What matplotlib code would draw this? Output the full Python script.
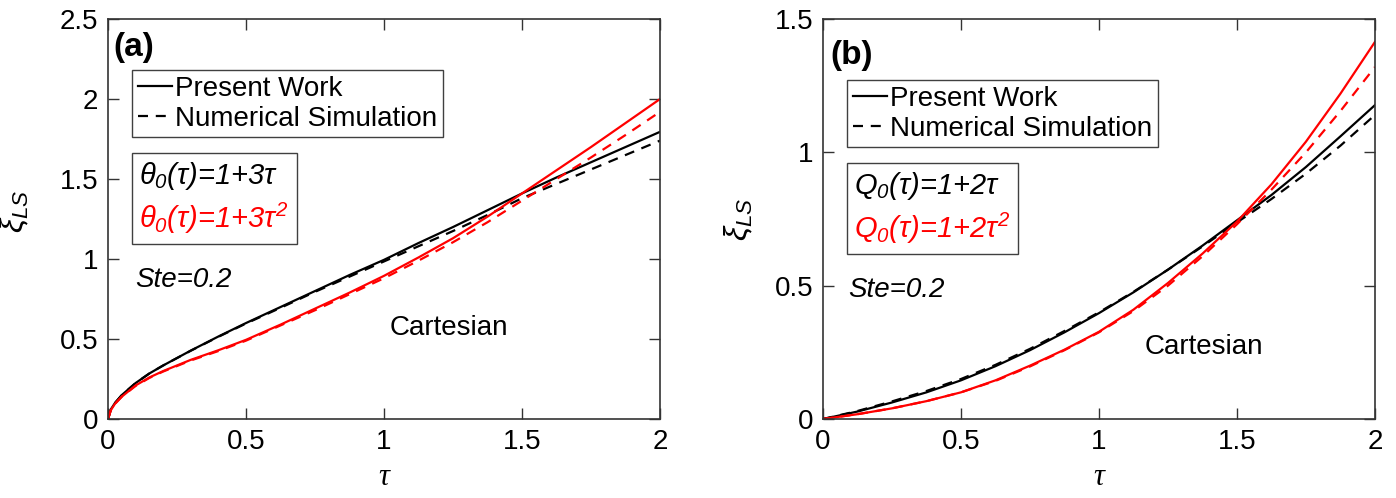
import matplotlib
matplotlib.use('Agg')
import matplotlib.pyplot as plt
from matplotlib.lines import Line2D
from matplotlib.ticker import FuncFormatter

plt.rcParams['font.family'] = ['Liberation Sans', 'DejaVu Sans']
plt.rcParams['mathtext.fontset'] = 'custom'
plt.rcParams['mathtext.rm'] = 'Liberation Sans:italic'
plt.rcParams['mathtext.it'] = 'Liberation Sans:italic'
plt.rcParams['mathtext.sf'] = 'Liberation Sans:italic'

# panel (a): linear vs quadratic wall temperature
tau_a = [0, 0.01, 0.025, 0.05, 0.1, 0.15, 0.2, 0.3, 0.4, 0.5, 0.625, 0.75, 0.875,
         1.0, 1.125, 1.25, 1.375, 1.5, 1.625, 1.75, 1.875, 2.0]
a_lin_present = [0, 0.06, 0.10, 0.15, 0.225, 0.285, 0.335, 0.428, 0.516, 0.60, 0.70, 0.80, 0.90,
                 0.995, 1.10, 1.20, 1.305, 1.41, 1.51, 1.605, 1.70, 1.795]
a_lin_numeric = [0, 0.06, 0.10, 0.15, 0.225, 0.285, 0.335, 0.427, 0.514, 0.597, 0.695, 0.795, 0.89,
                 0.985, 1.08, 1.175, 1.275, 1.38, 1.47, 1.56, 1.65, 1.74]
a_quad_present = [0, 0.055, 0.095, 0.14, 0.21, 0.26, 0.30, 0.37, 0.43, 0.495, 0.59, 0.69, 0.79,
                  0.895, 1.01, 1.13, 1.265, 1.41, 1.555, 1.70, 1.85, 2.0]
a_quad_numeric = [0, 0.055, 0.095, 0.14, 0.207, 0.257, 0.297, 0.366, 0.425, 0.49, 0.585, 0.68, 0.78,
                  0.88, 0.99, 1.105, 1.23, 1.365, 1.50, 1.635, 1.775, 1.92]

# panel (b): linear vs quadratic heat flux
tau_b = [0, 0.125, 0.25, 0.375, 0.5, 0.625, 0.75, 0.875, 1.0, 1.125, 1.25, 1.375,
         1.5, 1.625, 1.75, 1.875, 2.0]
b_lin_present = [0, 0.028, 0.062, 0.10, 0.145, 0.198, 0.258, 0.325, 0.397, 0.475, 0.56, 0.65,
                 0.745, 0.84, 0.945, 1.06, 1.177]
b_lin_numeric = [0, 0.03, 0.066, 0.105, 0.15, 0.203, 0.263, 0.33, 0.40, 0.477, 0.56, 0.647,
                 0.737, 0.825, 0.92, 1.025, 1.14]
b_quad_present = [0, 0.018, 0.04, 0.067, 0.10, 0.145, 0.20, 0.26, 0.327, 0.41, 0.51, 0.62,
                  0.74, 0.88, 1.04, 1.22, 1.414]
b_quad_numeric = [0, 0.018, 0.04, 0.067, 0.10, 0.143, 0.197, 0.258, 0.325, 0.405, 0.50, 0.61,
                  0.73, 0.86, 1.0, 1.155, 1.32]

x_ticks = [0, 0.5, 1, 1.5, 2]
y_ticks_a = [0, 0.5, 1, 1.5, 2, 2.5]
y_ticks_b = [0, 0.5, 1, 1.5]

legend_labels = ['Present Work', 'Numerical Simulation']
cond_a = [r'$\theta_0(\tau)$=1+3$\tau$', r'$\theta_0(\tau)$=1+3$\tau^2$']
cond_b = [r'$Q_0(\tau)$=1+2$\tau$', r'$Q_0(\tau)$=1+2$\tau^2$']

DASH = (0, (4.5, 3.5))
LW = 1.6

fig = plt.figure(figsize=(13.96, 4.98), dpi=100)
ax_a = fig.add_axes([0.0774, 0.1586, 0.3954, 0.8032])
ax_b = fig.add_axes([0.5895, 0.1586, 0.3954, 0.8032])

fmt = FuncFormatter(lambda v, p: '%g' % v)


def style_axes(ax, yticks, ylim):
    ax.set_xlim(0, 2)
    ax.set_ylim(*ylim)
    ax.set_xticks(x_ticks)
    ax.set_yticks(yticks)
    ax.xaxis.set_major_formatter(fmt)
    ax.yaxis.set_major_formatter(fmt)
    ax.tick_params(direction='in', top=True, right=True, length=8, width=1.0,
                   color='0.2', labelsize=20, pad=7)
    for s in ax.spines.values():
        s.set_linewidth(1.2)
        s.set_color('0.2')
    ax.set_xlabel('τ', family='Liberation Serif', style='italic', fontsize=22, labelpad=6)
    ax.set_ylabel(r'$\xi_{LS}$', fontsize=23)


def add_legends(ax, conds, top1, top2):
    handles = [Line2D([], [], color='k', lw=LW),
               Line2D([], [], color='k', lw=LW, ls=DASH)]
    leg1 = ax.legend(handles, legend_labels, loc='upper left', bbox_to_anchor=(0.0435, top1),
                     borderaxespad=0, fancybox=False, edgecolor='0.25', framealpha=1,
                     fontsize=20, handlelength=1.25, handletextpad=0.1, borderpad=0.2,
                     labelspacing=0.15)
    leg1.get_frame().set_linewidth(1.0)
    ax.add_artist(leg1)
    blanks = [Line2D([], [], ls='none'), Line2D([], [], ls='none')]
    leg2 = ax.legend(blanks, conds, loc='upper left', bbox_to_anchor=(0.0435, top2),
                     borderaxespad=0, fancybox=False, edgecolor='0.25', framealpha=1,
                     prop={'size': 21, 'style': 'italic'}, handlelength=0, handletextpad=0,
                     borderpad=0.25, labelspacing=0.3, labelcolor=['k', 'red'])
    leg2.get_frame().set_linewidth(1.0)


# (a)
ax_a.plot(tau_a, a_lin_present, color='k', lw=LW)
ax_a.plot(tau_a, a_lin_numeric, color='k', lw=LW, ls=DASH)
ax_a.plot(tau_a, a_quad_present, color='red', lw=LW)
ax_a.plot(tau_a, a_quad_numeric, color='red', lw=LW, ls=DASH)
style_axes(ax_a, y_ticks_a, (0, 2.5))
ax_a.yaxis.set_label_coords(-0.14, 0.52)
add_legends(ax_a, cond_a, 0.8725, 0.665)
ax_a.text(0.009, 0.93, '(a)', transform=ax_a.transAxes, fontsize=24, fontweight='bold',
          va='center', ha='left')
ax_a.text(0.049, 0.3475, 'Ste=0.2', transform=ax_a.transAxes, fontsize=20, style='italic',
          va='center', ha='left')
ax_a.text(0.618, 0.2275, 'Cartesian', transform=ax_a.transAxes, fontsize=20,
          va='center', ha='center')

# (b)
ax_b.plot(tau_b, b_lin_present, color='k', lw=LW)
ax_b.plot(tau_b, b_lin_numeric, color='k', lw=LW, ls=DASH)
ax_b.plot(tau_b, b_quad_present, color='red', lw=LW)
ax_b.plot(tau_b, b_quad_numeric, color='red', lw=LW, ls=DASH)
style_axes(ax_b, y_ticks_b, (0, 1.5))
ax_b.yaxis.set_label_coords(-0.123, 0.50)
add_legends(ax_b, cond_b, 0.8475, 0.64)
ax_b.text(0.0127, 0.91, '(b)', transform=ax_b.transAxes, fontsize=24, fontweight='bold',
          va='center', ha='left')
ax_b.text(0.045, 0.3225, 'Ste=0.2', transform=ax_b.transAxes, fontsize=20, style='italic',
          va='center', ha='left')
ax_b.text(0.69, 0.18, 'Cartesian', transform=ax_b.transAxes, fontsize=20,
          va='center', ha='center')

fig.savefig('out.png', dpi=100)
